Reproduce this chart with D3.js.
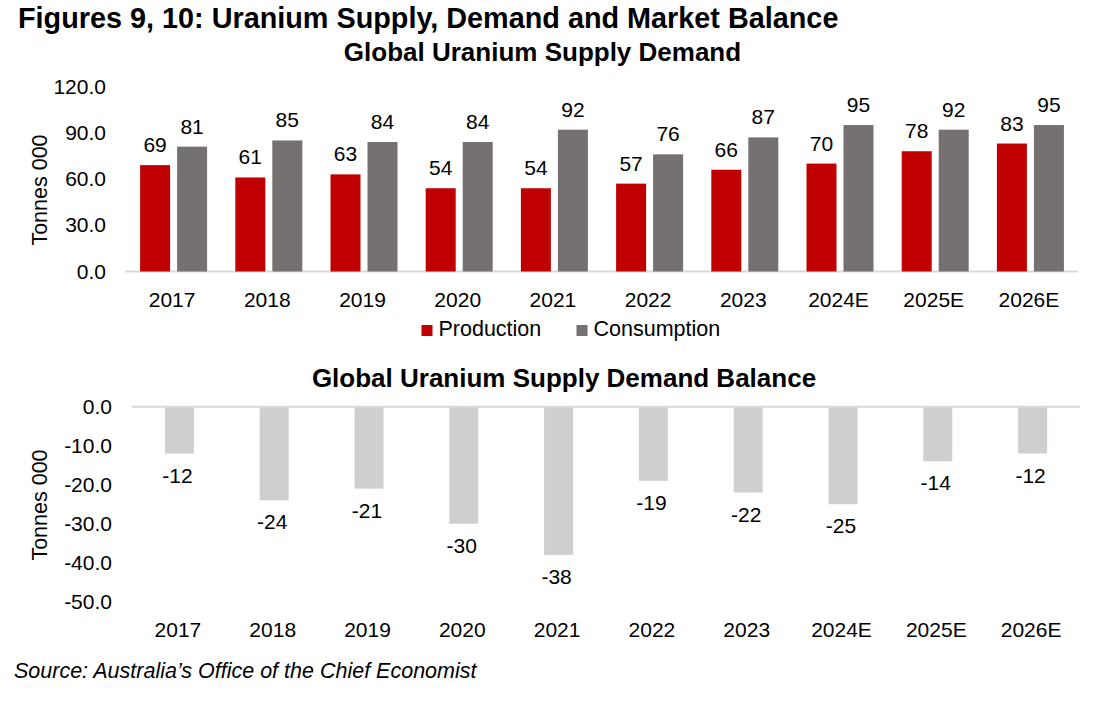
<!DOCTYPE html>
<html><head><meta charset="utf-8">
<script src="https://cdn.jsdelivr.net/npm/d3@7/dist/d3.min.js"></script>
<style>body{margin:0;background:#fff}svg{font-family:"Liberation Sans",Arial,sans-serif}</style>
</head><body><svg id="c" width="1096" height="706"></svg>
<script>
const categories = ["2017","2018","2019","2020","2021","2022","2023","2024E","2025E","2026E"];
const production = [69,61,63,54,54,57,66,70,78,83];
const consumption = [81,85,84,84,92,76,87,95,92,95];
const balance = [-12,-24,-21,-30,-38,-19,-22,-25,-14,-12];
const topTicks = [0,30,60,90,120];
const bottomTicks = [0,-10,-20,-30,-40,-50];
const seriesNames = ["Production","Consumption"];
const colors = {Production:"#c00000", Consumption:"#767171", balance:"#d0cece"};
const FS = 21;

const svg = d3.select("#c");
svg.append("text").attr("x",18).attr("y",28).attr("font-size",28.8).attr("font-weight","bold").text("Figures 9, 10: Uranium Supply, Demand and Market Balance");

// Top chart
const x1 = d3.scaleBand().domain(categories).range([126,1078]);
const y1 = d3.scaleLinear().domain([0,120]).range([271.5,86.5]);
const sub = d3.scaleOrdinal().domain(seriesNames).range([0,37]);
const barW = 30, groupW = 67;
svg.append("text").attr("x",542.5).attr("y",61).attr("text-anchor","middle").attr("font-size",26).attr("font-weight","bold").text("Global Uranium Supply Demand");
const gT = svg.append("g");
gT.append("line").attr("x1",125).attr("x2",1078).attr("y1",y1(0)).attr("y2",y1(0)).attr("stroke","#d9d9d9").attr("stroke-width",2);
gT.append("g").attr("transform",`translate(0,${y1(0)})`).call(d3.axisBottom(x1).tickSize(0))
  .call(g=>{g.select(".domain").remove();g.selectAll("text").attr("font-size",FS).attr("font-family","Liberation Sans").attr("y",307-y1(0)).attr("dy","0").attr("dx","-1.5");});
gT.append("g").attr("transform","translate(106,0)").call(d3.axisLeft(y1).tickValues(topTicks).tickFormat(d3.format(".1f")).tickSize(0).tickPadding(0))
  .call(g=>{g.select(".domain").remove();g.selectAll("text").attr("font-size",FS).attr("font-family","Liberation Sans");});
const data1 = categories.map((c,i)=>({c, vals:[{s:"Production",v:production[i]},{s:"Consumption",v:consumption[i]}]}));
const grp = gT.selectAll(".grp").data(data1).join("g").attr("class","grp").attr("transform",d=>`translate(${x1(d.c)+(x1.bandwidth()-groupW)/2},0)`);
grp.selectAll("rect").data(d=>d.vals).join("rect").attr("x",d=>sub(d.s)).attr("width",barW)
  .attr("y",d=>y1(d.v)).attr("height",d=>y1(0)-y1(d.v)).attr("fill",d=>colors[d.s]);
grp.selectAll("text").data(d=>d.vals).join("text").attr("x",d=>sub(d.s)+barW/2).attr("y",d=>y1(d.v)-13)
  .attr("text-anchor","middle").attr("font-size",FS).text(d=>d.v);
svg.append("text").attr("transform","translate(47,190) rotate(-90)").attr("text-anchor","middle").attr("font-size",21.5).text("Tonnes 000");
// legend
const leg = svg.append("g");
const legX = [421.5,576.5];
seriesNames.forEach((s,i)=>{
  leg.append("rect").attr("x",legX[i]).attr("y",325).attr("width",11).attr("height",11).attr("fill",colors[s]);
  leg.append("text").attr("x",legX[i]+17).attr("y",336).attr("font-size",21.5).text(s);
});

// Bottom chart
svg.append("text").attr("x",564).attr("y",387).attr("text-anchor","middle").attr("font-size",26).attr("font-weight","bold").text("Global Uranium Supply Demand Balance");
const x2 = d3.scaleBand().domain(categories).range([132,1080]).paddingInner(0.694).paddingOuter(0.347);
const y2 = d3.scaleLinear().domain([-50,0]).range([601.7,406.7]);
const gB = svg.append("g");
const data2 = categories.map((c,i)=>({c,v:balance[i]}));
gB.selectAll("rect").data(data2).join("rect")
  .attr("x",d=>x2(d.c)).attr("width",x2.bandwidth()).attr("y",y2(0)).attr("height",d=>y2(d.v)-y2(0)).attr("fill",colors.balance);
gB.append("line").attr("x1",131.5).attr("x2",1080).attr("y1",y2(0)).attr("y2",y2(0)).attr("stroke","#d9d9d9").attr("stroke-width",2);
gB.selectAll(".lbl").data(data2).join("text").attr("class","lbl")
  .attr("x",d=>x2(d.c)+x2.bandwidth()/2-2).attr("y",d=>y2(d.v)+29).attr("text-anchor","middle").attr("font-size",FS).text(d=>d.v);
gB.append("g").attr("transform","translate(112,0)").call(d3.axisLeft(y2).tickValues(bottomTicks).tickFormat(d=>d3.format(".1f")(d).replace("\u2212","-")).tickSize(0).tickPadding(0))
  .call(g=>{g.select(".domain").remove();g.selectAll("text").attr("font-size",FS).attr("font-family","Liberation Sans");});
gB.append("g").attr("transform","translate(0,637)").call(d3.axisBottom(x2).tickSize(0).tickPadding(0))
  .call(g=>{g.select(".domain").remove();g.selectAll("text").attr("font-size",FS).attr("font-family","Liberation Sans").attr("y",0).attr("dy","0").attr("dx","-1.5");});
svg.append("text").attr("transform","translate(47,505) rotate(-90)").attr("text-anchor","middle").attr("font-size",21.5).text("Tonnes 000");

svg.append("text").attr("x",14).attr("y",678).attr("font-size",21.5).attr("font-style","italic").text("Source: Australia\u2019s Office of the Chief Economist");
</script></body></html>
